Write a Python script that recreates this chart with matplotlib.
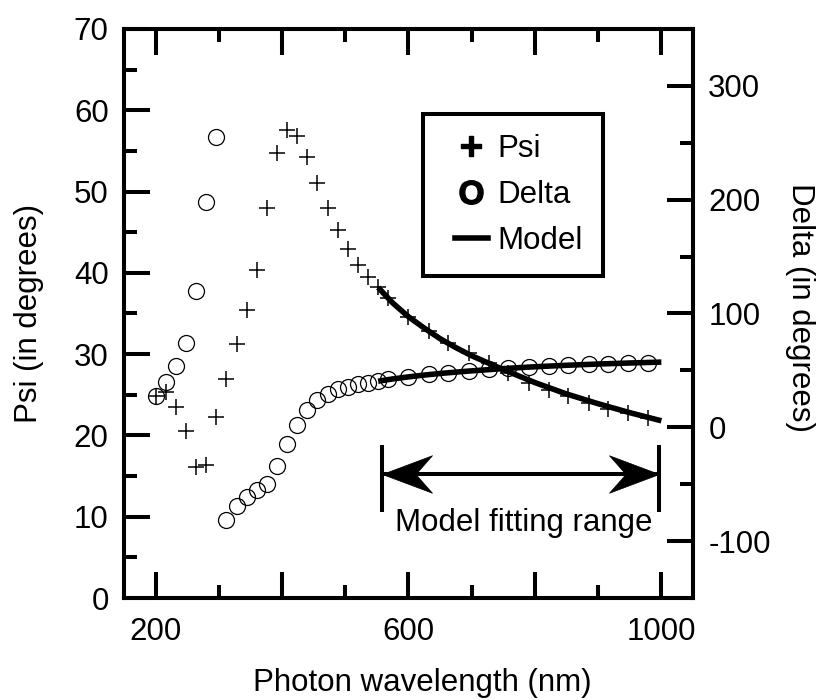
import numpy as np
import matplotlib
matplotlib.use('Agg')
import matplotlib.pyplot as plt
from matplotlib.lines import Line2D
from matplotlib.legend_handler import HandlerLine2D
from matplotlib.path import Path
from matplotlib.ticker import MultipleLocator, FuncFormatter

plt.rcParams['font.family'] = ['Liberation Sans', 'DejaVu Sans']
plt.rcParams['font.size'] = 22.5
plt.rcParams['axes.unicode_minus'] = False
plt.rcParams['mathtext.fontset'] = 'custom'
plt.rcParams['mathtext.bf'] = 'Liberation Sans:bold'
plt.rcParams['mathtext.rm'] = 'Liberation Sans'

# measured points (wavelength in nm)
wl = [200, 216, 232, 248, 264, 280, 296, 312, 328, 344, 360, 376, 392, 408,
      424, 440, 456, 472, 488, 504, 520, 536, 552, 568,
      600, 632, 663, 695, 727, 758, 790, 822, 853, 885, 916, 948, 979]
psi = [24.8, 25.4, 23.5, 20.5, 16.1, 16.4, 22.3, 26.9, 31.3, 35.4, 40.4, 48.0,
       54.8, 57.6, 56.8, 54.2, 51.0, 48.0, 45.3, 42.9, 41.0, 39.5, 38.2, 36.9,
       34.6, 32.8, 31.4, 30.1, 28.9, 27.7, 26.5, 25.6, 24.8, 24.0, 23.3, 22.7, 22.2]
delta = [27.5, 39.8, 53.9, 74.5, 119.9, 198.2, 254.8, -81.5, -69.2, -61.0,
         -55.4, -49.5, -34.0, -15.0, 2.4, 15.0, 24.0, 29.6, 33.4, 35.8, 37.8,
         39.3, 40.7, 42.2, 44.6, 46.6, 48.1, 49.5, 51.0, 51.9, 53.0, 53.9, 54.8,
         55.7, 56.0, 56.6, 56.9]

# model curves over the fitting range
model_wl = [552, 575, 600, 625, 650, 675, 700, 750, 800, 850, 900, 950, 1000]
psi_model = [38.2, 36.3, 34.6, 33.2, 31.9, 30.8, 29.8, 28.1, 26.5, 25.1, 23.9, 22.8, 21.8]
delta_model = [40.5, 42.5, 44.3, 45.9, 47.3, 48.5, 49.6, 51.6, 53.2, 54.5, 55.6, 56.5, 57.3]

# fitting range annotation (in Psi units)
fit_lo, fit_hi = 558, 996
arrow_y = 15.25
bar_lo, bar_hi = 10.6, 18.8

fig = plt.figure(figsize=(8.2, 7), dpi=100)
ax = fig.add_axes([0.1512, 0.1457, 0.6939, 0.8129])
ax2 = ax.twinx()

ax.plot(wl, psi, ls='none', marker='+', ms=12, mew=1.1, color='k')
ax.plot(model_wl, psi_model, color='k', lw=4, solid_capstyle='butt')
ax2.plot(wl, delta, ls='none', marker='o', ms=11.5, mew=0.9, mfc='none', mec='k')
ax2.plot(model_wl, delta_model, color='k', lw=4, solid_capstyle='butt')

# fitting range: bars + double arrow with notched heads
head = Path([(0, 0), (-1, 0.375), (-0.67, 0), (-1, -0.375), (0, 0)],
            [Path.MOVETO, Path.LINETO, Path.LINETO, Path.LINETO, Path.CLOSEPOLY])
head_l = Path(np.array(head.vertices) * [-1, 1], head.codes)
ax.vlines([fit_lo, fit_hi], bar_lo, bar_hi, color='k', lw=2.9)
ax.plot([fit_lo, fit_hi], [arrow_y, arrow_y], color='k', lw=2.9)
ax.plot([fit_hi], [arrow_y], marker=head, ms=72, color='k', mew=0.5)
ax.plot([fit_lo], [arrow_y], marker=head_l, ms=72, color='k', mew=0.5)
ax.text((fit_lo + fit_hi) / 2 + 5, 8.3, 'Model fitting range', ha='center', va='baseline')

ax.set_xlim(150, 1050)
ax.set_ylim(0, 70)
ax2.set_ylim(-150, 350)

ax.xaxis.set_major_locator(MultipleLocator(200))
ax.xaxis.set_minor_locator(MultipleLocator(100))
ax.xaxis.set_major_formatter(FuncFormatter(lambda v, p: '%d' % v if v in (200, 600, 1000) else ''))
ax.yaxis.set_major_locator(MultipleLocator(10))
ax.yaxis.set_minor_locator(MultipleLocator(5))
ax2.yaxis.set_major_locator(MultipleLocator(100))
ax2.yaxis.set_minor_locator(MultipleLocator(50))
ax2.yaxis.set_major_formatter(FuncFormatter(lambda v, p: '%d' % v if -100 <= v <= 300 else ''))

ax.tick_params(which='both', direction='in', top=True, right=False, width=2.9)
ax.tick_params(which='major', length=18.5)
ax.tick_params(which='minor', length=9.5)
ax.tick_params(axis='x', pad=14)
ax.tick_params(axis='y', pad=11)
ax2.tick_params(which='both', direction='in', width=2.9)
ax2.tick_params(which='major', length=18.5, pad=11)
ax2.tick_params(which='minor', length=9.5)

for a in (ax, ax2):
    for s in a.spines.values():
        s.set_linewidth(2.9)

ax.set_xlabel('Photon wavelength (nm)')
ax.xaxis.set_label_coords(0.525, -0.123)
ax.set_ylabel('Psi (in degrees)')
ax.yaxis.set_label_coords(-0.141, 0.5)
ax2.set_ylabel('Delta (in degrees)', rotation=270, va='bottom')
ax2.yaxis.set_label_coords(1.162, 0.51)

handles = [Line2D([], [], ls='none', marker=r'$\mathbf{+}$', ms=15, color='k'),
           Line2D([], [], ls='none', marker=r'$\mathbf{O}$', ms=17, color='k'),
           Line2D([], [], color='k', lw=4)]
leg = ax2.legend(handles, ['Psi', 'Delta', 'Model'], loc='upper left',
                 bbox_to_anchor=(0.5255, 0.8506), borderaxespad=0, fancybox=False,
                 framealpha=1, edgecolor='k', borderpad=0.65, handlelength=1.42,
                 handletextpad=0.32, labelspacing=0.5,
                 handler_map={Line2D: HandlerLine2D(xpad=0.37)})
leg.get_frame().set_linewidth(2.9)

fig.savefig('out.png', dpi=100)
